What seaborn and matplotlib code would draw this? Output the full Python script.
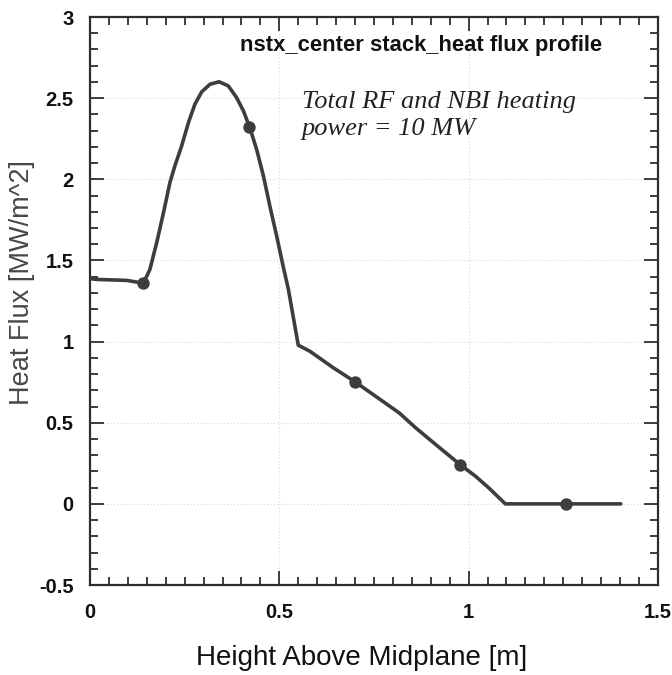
import numpy as np
import pandas as pd
import matplotlib
matplotlib.use("Agg")
import matplotlib.pyplot as plt
from matplotlib.ticker import MultipleLocator
import seaborn as sns

# Heat flux profile along the center stack
height_m = [0.000, 0.018, 0.097, 0.141, 0.158, 0.176, 0.194, 0.211, 0.224, 0.242,
            0.260, 0.277, 0.295, 0.317, 0.341, 0.365, 0.387, 0.405, 0.421, 0.440,
            0.458, 0.475, 0.493, 0.510, 0.524, 0.550, 0.581, 0.643, 0.700, 0.755,
            0.817, 0.861, 0.914, 0.978, 1.019, 1.054, 1.097, 1.257, 1.402]
heat_flux = [1.388, 1.383, 1.377, 1.360, 1.444, 1.609, 1.794, 1.980, 2.082, 2.206,
             2.350, 2.463, 2.539, 2.586, 2.601, 2.576, 2.504, 2.422, 2.325, 2.185,
             2.020, 1.835, 1.650, 1.465, 1.321, 0.978, 0.940, 0.838, 0.752, 0.662,
             0.560, 0.467, 0.364, 0.241, 0.169, 0.097, 0.000, 0.000, 0.000]

# Symbols placed along the curve
marker_height = [0.141, 0.421, 0.700, 0.978, 1.257]
marker_flux = [1.360, 2.325, 0.752, 0.241, 0.000]

x_ticks = [0, 0.5, 1, 1.5]
x_tick_labels = ["0", "0.5", "1", "1.5"]
y_ticks = [-0.5, 0, 0.5, 1, 1.5, 2, 2.5, 3]
y_tick_labels = ["-0.5", "0", "0.5", "1", "1.5", "2", "2.5", "3"]

title_text = "nstx_center stack_heat flux profile"
note_text = "Total RF and NBI heating\npower = 10 MW"

sns.set_style("white")
plt.rcParams["font.family"] = ["Liberation Sans", "DejaVu Sans"]

line_color = "#3d3d3d"
axis_color = "#2e2e2e"

profile = pd.DataFrame({"height": height_m, "flux": heat_flux})
markers = pd.DataFrame({"height": marker_height, "flux": marker_flux})

fig = plt.figure(figsize=(6.72, 6.75), dpi=100)
ax = fig.add_axes([0.134, 0.1333, 0.845, 0.8415])

sns.lineplot(data=profile, x="height", y="flux", ax=ax, color=line_color,
             linewidth=2.6, sort=False, estimator=None, zorder=3)
sns.scatterplot(data=markers, x="height", y="flux", ax=ax, color=line_color,
                s=80, edgecolor=line_color, linewidth=0, zorder=4)

ax.set_xlim(0, 1.5)
ax.set_ylim(-0.5, 3)
ax.set_xticks(x_ticks)
ax.set_xticklabels(x_tick_labels)
ax.set_yticks(y_ticks)
ax.set_yticklabels(y_tick_labels)
ax.xaxis.set_minor_locator(MultipleLocator(0.05))
ax.yaxis.set_minor_locator(MultipleLocator(0.1))

ax.grid(True, which="major", color="#d8d8d8", linestyle=(0, (1, 2)), linewidth=0.8)
ax.set_axisbelow(True)

for side in ax.spines.values():
    side.set_color(axis_color)
    side.set_linewidth(1.6)

ax.tick_params(which="both", direction="in", top=True, right=True,
               bottom=True, left=True, color=axis_color, width=1.3)
ax.tick_params(which="major", length=10)
ax.tick_params(which="minor", length=6)
ax.tick_params(axis="y", which="major", pad=12)
ax.tick_params(axis="x", which="major", pad=13)
for lbl in ax.get_xticklabels() + ax.get_yticklabels():
    lbl.set_fontweight("bold")
    lbl.set_fontsize(14.5)
    lbl.set_color("#111111")

ax.set_xlabel("Height Above Midplane [m]", fontsize=20, color="#111111", va="center")
ax.xaxis.set_label_coords(0.478, -0.1285)
ax.set_ylabel("Heat Flux [MW/m^2]", fontsize=19.5, color="#474747", va="center")
ax.yaxis.set_label_coords(-0.12, 0.532)

ax.text(0.874, 2.823, title_text, ha="center", va="center", fontsize=15.8,
        fontweight="bold", color="#111111")
ax.text(0.559, 2.547, note_text, ha="left", va="top", fontsize=19,
        fontstyle="italic", family=["Liberation Serif", "DejaVu Serif"],
        color="#222222", linespacing=1.3)

fig.savefig("out.png", dpi=100)
